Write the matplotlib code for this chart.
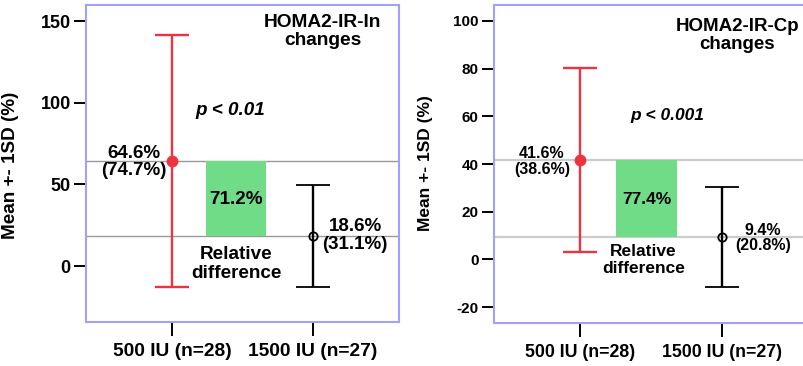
import matplotlib
matplotlib.use("Agg")
import matplotlib.pyplot as plt

plt.rcParams['font.family'] = ['Liberation Sans', 'DejaVu Sans']
plt.rcParams['font.weight'] = 'bold'

groups = ["500 IU (n=28)", "1500 IU (n=27)"]

# Left panel: HOMA2-IR-In
in_means = [64.6, 18.6]
in_sd_drawn = [77.3, 31.2]
in_labels = ["64.6%\n(74.7%)", "18.6%\n(31.1%)"]
in_diff_label = "71.2%"
in_p = "p < 0.01"
in_title = "HOMA2-IR-In\nchanges"
in_yticks = [0, 50, 100, 150]

# Right panel: HOMA2-IR-Cp
cp_means = [41.6, 9.4]
cp_sd_drawn = [38.5, 20.8]
cp_labels = ["41.6%\n(38.6%)", "9.4%\n(20.8%)"]
cp_diff_label = "77.4%"
cp_p = "p < 0.001"
cp_title = "HOMA2-IR-Cp\nchanges"
cp_yticks = [-20, 0, 20, 40, 60, 80, 100]

RED = "#ee3340"
GREEN = "#70dc88"
SPINE = "#a0a0ff"

fig = plt.figure(figsize=(8.04, 3.66), dpi=100)
axL = fig.add_axes([86/804, 1-322/366, (399-86)/804, (322-5)/366])
axR = fig.add_axes([494/804, 1-323/366, (810-494)/804, (323-5)/366])


def panel(ax, means, sds, labels, diff_label, ptxt, title, yticks, ylim, xlim,
          fs, tfs, lfs, ttfs, xfs, gray, glw, lab_pos, diff_pos, rel_pos, p_pos,
          title_pos, ylab_pos):
    x = [0, 1]
    for m in means:
        ax.axhline(m, color=gray, lw=glw, zorder=1)
    ax.bar((diff_pos[0]), means[0] - means[1], bottom=means[1], width=0.43,
           color=GREEN, zorder=2)
    ax.errorbar(x[0], means[0], yerr=sds[0], color=RED, lw=1.7, capsize=12.5,
                capthick=1.7, marker='o', ms=7.5, mfc=RED, mec=RED, zorder=4)
    ax.errorbar(x[1], means[1], yerr=sds[1], color='black', lw=1.7, capsize=12.5,
                capthick=1.7, marker='o', ms=6, mfc='none', mec='black', mew=1.3,
                zorder=4)
    for (px, py), t in zip(lab_pos, labels):
        ax.text(px, py, t, ha='center', va='center', fontsize=lfs,
                fontweight='bold', linespacing=1.05, zorder=5)
    ax.text(diff_pos[0], diff_pos[1], diff_label, ha='center', va='center',
            fontsize=fs, fontweight='bold', zorder=5)
    ax.text(rel_pos[0], rel_pos[1], "Relative\ndifference", ha='center',
            va='center', fontsize=fs, fontweight='bold', linespacing=1.15)
    ax.text(p_pos[0], p_pos[1], ptxt, ha='center', va='center', fontsize=fs,
            fontweight='bold', style='italic')
    ax.text(title_pos[0], title_pos[1], title, ha='center', va='center',
            fontsize=ttfs, fontweight='bold', linespacing=1.1)
    ax.set_xlim(*xlim)
    ax.set_ylim(*ylim)
    ax.set_xticks(x)
    ax.set_xticklabels(groups, fontsize=xfs, fontweight='bold')
    ax.set_yticks(yticks)
    ax.set_yticklabels([str(v) for v in yticks], fontsize=tfs, fontweight='bold')
    ax.tick_params(axis='x', length=10, width=1.4, pad=5)
    ax.tick_params(axis='y', length=9, width=1.4, pad=2)
    for s in ax.spines.values():
        s.set_color(SPINE)
        s.set_linewidth(1.5)
    ax.set_ylabel("Mean +- 1SD (%)", fontsize=fs, fontweight='bold')
    ax.yaxis.set_label_coords(*ylab_pos)


panel(axL, in_means, in_sd_drawn, in_labels, in_diff_label, in_p, in_title,
      in_yticks, (-34.3, 160), (-0.61, 1.61), fs=13.6, tfs=13, lfs=13.5,
      ttfs=13.8, xfs=13.8, gray="#999999", glw=1.0,
      lab_pos=[(-0.27, 63.7), (1.30, 18.7)], diff_pos=(0.454, 41),
      rel_pos=(0.454, 1.4), p_pos=(0.41, 95.5), title_pos=(1.07, 143.8),
      ylab_pos=(-0.215, 0.495))

panel(axR, cp_means, cp_sd_drawn, cp_labels, cp_diff_label, cp_p, cp_title,
      cp_yticks, (-26.7, 106.7), (-0.61, 1.62), fs=12.5, tfs=11, lfs=11.5,
      ttfs=13.5, xfs=12.8, gray="#cccccc", glw=1.6,
      lab_pos=[(-0.272, 41.0), (1.29, 8.9)], diff_pos=(0.469, 25.3),
      rel_pos=(0.443, -0.3), p_pos=(0.612, 60.5), title_pos=(1.106, 93.9),
      ylab_pos=(-0.194, 0.503))

fig.savefig("out.png", dpi=100)
